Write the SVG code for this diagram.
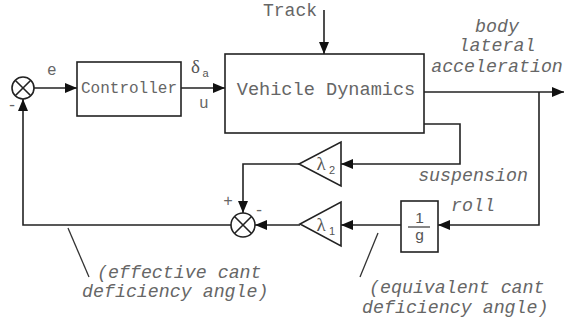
<svg xmlns="http://www.w3.org/2000/svg" width="565" height="322" viewBox="0 0 565 322">
<style>
.blk{fill:#fff;stroke:#222;stroke-width:1.6}
.ln{fill:none;stroke:#222;stroke-width:1.6}
.t{font-family:"Liberation Mono","DejaVu Sans Mono",monospace;fill:#666}
.it{font-family:"Liberation Mono","DejaVu Sans Mono",monospace;font-style:italic;font-size:18.3px;fill:#666}
.sf{font-family:"Liberation Serif","DejaVu Serif",serif;fill:#555}
.ss{font-family:"Liberation Sans","DejaVu Sans",sans-serif;fill:#555}
</style>
<defs>
<marker id="ah" markerUnits="userSpaceOnUse" markerWidth="12" markerHeight="10" refX="12" refY="5" orient="auto">
<path d="M0,0 L12,5 L0,10 Z" fill="#111"/>
</marker>
</defs>
<rect width="565" height="322" fill="#fff"/>

<g id="connectors">
<line class="ln" x1="34" y1="88" x2="77" y2="88" marker-end="url(#ah)"/>
<line class="ln" x1="181" y1="88" x2="225" y2="88" marker-end="url(#ah)"/>
<line class="ln" x1="324" y1="10" x2="324" y2="54" marker-end="url(#ah)"/>
<line class="ln" x1="424" y1="92" x2="564" y2="92" marker-end="url(#ah)"/>
<polyline class="ln" points="539,92 539,225 438,225" marker-end="url(#ah)"/>
<line class="ln" x1="401" y1="225" x2="341" y2="225" marker-end="url(#ah)"/>
<line class="ln" x1="300" y1="225" x2="255" y2="225" marker-end="url(#ah)"/>
<polyline class="ln" points="424,124 460,124 460,164 341,164" marker-end="url(#ah)"/>
<polyline class="ln" points="299,164 243,164 243,213" marker-end="url(#ah)"/>
<polyline class="ln" points="231,225 23,225 23,99" marker-end="url(#ah)"/>
<line x1="68" y1="228" x2="89" y2="277" stroke="#333" stroke-width="1.3"/>
<line x1="378" y1="233" x2="360" y2="277" stroke="#333" stroke-width="1.3"/>
</g>

<g id="sum1">
<circle class="blk" cx="23" cy="88" r="11"/>
<path class="ln" d="M15.2,80.2 L30.8,95.8 M30.8,80.2 L15.2,95.8"/>
<text class="t" x="12" y="110" font-size="16" text-anchor="middle">-</text>
</g>

<g id="controller">
<rect class="blk" x="77" y="62" width="104" height="54"/>
<text class="t" x="129" y="93" font-size="16" text-anchor="middle">Controller</text>
</g>

<g id="vehicle">
<rect class="blk" x="225" y="54" width="199" height="79"/>
<text class="t" x="326" y="95" font-size="18.6" text-anchor="middle">Vehicle Dynamics</text>
</g>

<g id="track"><text class="t" x="263" y="16" font-size="18">Track</text></g>

<g id="lambda2">
<polygon class="blk" points="341,142 341,186 299,164"/>
<text class="sf" x="316.5" y="170" font-size="19">λ</text>
<text class="ss" x="329" y="174" font-size="11">2</text>
</g>

<g id="lambda1">
<polygon class="blk" points="341,202 341,246 300,224"/>
<text class="sf" x="316.5" y="231" font-size="19">λ</text>
<text class="ss" x="329" y="235" font-size="11">1</text>
</g>

<g id="sum2">
<circle class="blk" cx="243" cy="225" r="12"/>
<path class="ln" d="M234.5,216.5 L251.5,233.5 M251.5,216.5 L234.5,233.5"/>
<text class="t" x="228" y="206" font-size="16" text-anchor="middle">+</text>
<text class="t" x="259" y="215" font-size="16" text-anchor="middle">-</text>
</g>

<g id="gain">
<rect class="blk" x="401" y="201" width="37" height="51"/>
<text class="ss" x="419.5" y="222.5" font-size="15.5" text-anchor="middle">1</text>
<line x1="408" y1="227" x2="430" y2="227" stroke="#444" stroke-width="1.3"/>
<text class="ss" x="419.5" y="240" font-size="15.5" text-anchor="middle">g</text>
</g>

<g id="labels">
<text class="t" x="47" y="75" font-size="16">e</text>
<text class="sf" x="191" y="73" font-size="19">δ</text>
<text class="ss" x="202.5" y="77" font-size="11">a</text>
<text class="t" x="199" y="108" font-size="16">u</text>
<text class="it" x="497" y="32" text-anchor="middle">body</text>
<text class="it" x="497" y="51" text-anchor="middle">lateral</text>
<text class="it" x="497" y="72" text-anchor="middle">acceleration</text>
<text class="it" x="473" y="181" text-anchor="middle">suspension</text>
<text class="it" x="473" y="211" text-anchor="middle">roll</text>
<text class="it" x="97" y="278">(effective cant</text>
<text class="it" x="82" y="297">deficiency angle)</text>
<text class="it" x="369" y="293">(equivalent cant</text>
<text class="it" x="362" y="313">deficiency angle)</text>
</g>
</svg>
